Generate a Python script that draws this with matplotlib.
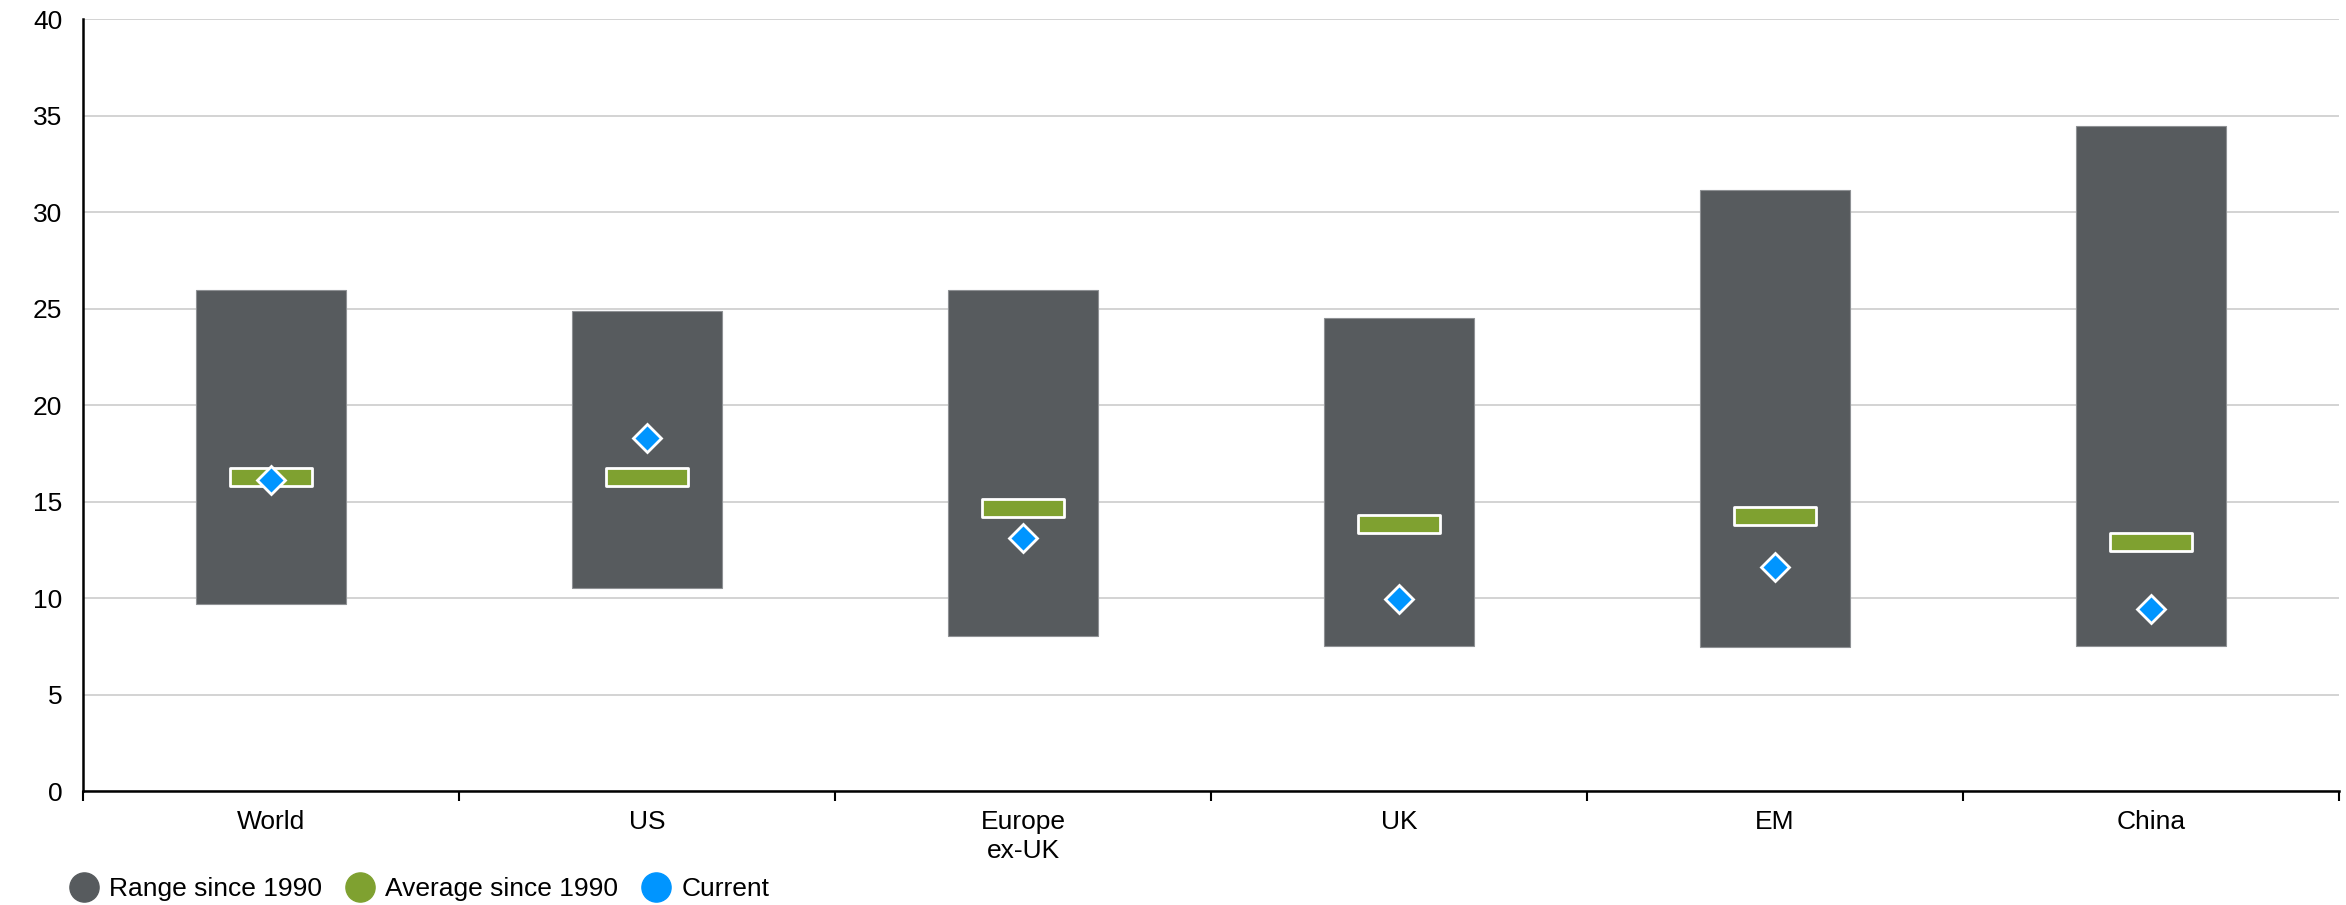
import matplotlib
matplotlib.use("Agg")
import matplotlib.pyplot as plt
from matplotlib.lines import Line2D
from matplotlib.path import Path
import numpy as np

plt.rcParams['font.family'] = ['Liberation Sans', 'DejaVu Sans']

# P/E valuation ranges by region
categories = ["World", "US", "Europe\nex-UK", "UK", "EM", "China"]
range_low = [9.7, 10.5, 8.05, 7.5, 7.45, 7.5]
range_high = [26.0, 24.9, 26.0, 24.5, 31.15, 34.5]
average = [16.3, 16.3, 14.65, 13.85, 14.25, 12.9]
current = [16.1, 18.3, 13.1, 9.95, 11.6, 9.45]

yticks = [0, 5, 10, 15, 20, 25, 30, 35, 40]

c_range = "#575b5e"
c_avg = "#7fa130"
c_cur = "#0095ff"
fs = 19

fig = plt.figure(figsize=(23.46, 9.05), dpi=100)
ax = fig.add_axes([83 / 2346, 1 - 791 / 905, (2339 - 83) / 2346, (791 - 19.5) / 905])

x = np.arange(len(categories))
heights = [h - l for h, l in zip(range_high, range_low)]
ax.bar(x, heights, bottom=range_low, width=0.4, color=c_range,
       edgecolor="#8e9194", linewidth=0.8, zorder=3)

# flat rectangle marker for the long-run average
rect = Path([(-1, -0.21), (1, -0.21), (1, 0.21), (-1, 0.21), (-1, -0.21)],
            [Path.MOVETO, Path.LINETO, Path.LINETO, Path.LINETO, Path.CLOSEPOLY])
ax.plot(x, average, linestyle="none", marker=rect, markersize=59,
        markerfacecolor=c_avg, markeredgecolor="white", markeredgewidth=2.0, zorder=4)
ax.plot(x, current, linestyle="none", marker="D", markersize=14,
        markerfacecolor=c_cur, markeredgecolor="white", markeredgewidth=2.0, zorder=5)

ax.set_xlim(-0.5, len(categories) - 0.5)
ax.set_ylim(0, 40)
ax.set_yticks(yticks)
ax.set_yticklabels([str(v) for v in yticks])
ax.grid(axis="y", color="#d0d0d0", linewidth=1.3, zorder=0)
ax.set_axisbelow(True)

ax.set_xticks(np.arange(len(categories) + 1) - 0.5)
ax.set_xticklabels([])
ax.set_xticks(x, minor=True)
ax.set_xticklabels(categories, minor=True, linespacing=1.25)
ax.tick_params(axis="x", which="major", length=7, width=1.5, color="black")
ax.tick_params(axis="x", which="minor", length=0, pad=14, labelsize=fs)
ax.tick_params(axis="y", length=0, pad=15, labelsize=fs)

for s in ["top", "right"]:
    ax.spines[s].set_visible(False)
for s in ["left", "bottom"]:
    ax.spines[s].set_linewidth(1.8)
    ax.spines[s].set_color("black")

handles = [
    Line2D([], [], linestyle="none", marker="o", markersize=21, color=c_range),
    Line2D([], [], linestyle="none", marker="o", markersize=21, color=c_avg),
    Line2D([], [], linestyle="none", marker="o", markersize=21, color=c_cur),
]
labels = ["Range since 1990", "Average since 1990", "Current"]
fig.legend(handles, labels, loc="center left", bbox_to_anchor=(69 / 2346, 16 / 905),
           ncol=3, frameon=False, fontsize=fs, handlelength=1.1, handletextpad=0.4,
           columnspacing=0.9, borderpad=0, borderaxespad=0)

fig.savefig("out.png", dpi=100)
